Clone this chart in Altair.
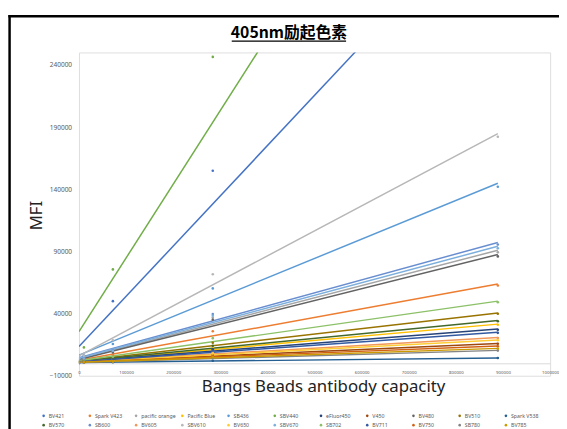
import altair as alt
import pandas as pd

# Bangs beads antibody binding capacity (x positions of the bead populations)
ABC = [0, 10500, 72000, 284000, 889000]

SERIES = ["BV421", "Spark V423", "pacific orange", "Pacific Blue", "SB436", "SBV440",
          "eFluor450", "V450", "BV480", "BV510", "Spark V538",
          "BV570", "SB600", "BV605", "SBV610", "BV650", "SBV670",
          "SB702", "BV711", "BV750", "SB780", "BV785"]

COLORS = ["#4472C4", "#ED7D31", "#A5A5A5", "#FFC000", "#5B9BD5", "#70AD47",
          "#264478", "#9E480E", "#636363", "#997300", "#255E91",
          "#43682B", "#698ED0", "#F1975A", "#B7B7B7", "#FFCD33", "#7CAFDD",
          "#8CC168", "#335AA1", "#D26012", "#848484", "#CC9A00"]

# MFI of each dye at the bead populations
mfi_BV421 = [0, 6000, 50000, 154800, 363700]
mfi_SparkV423 = [1643, 2365, 6600, 25725, 62605]
mfi_pacific_orange = [2276, 3308, 9356, 36668, 89336]
mfi_PacificBlue = [1080, 1434, 3510, 12885, 30963]
mfi_SB436 = [4377, 6009, 15570, 60249, 141969]
mfi_SBV440 = [1400, 12800, 75500, 246400, 535400]
mfi_eFluor450 = [1035, 1343, 3149, 11305, 27033]
mfi_V450 = [790, 967, 2005, 6693, 15732]
mfi_BV480 = [1817, 2814, 8662, 35068, 85988]
mfi_BV510 = [1258, 1715, 4393, 16487, 39807]
mfi_SparkV538 = [548, 592, 848, 2004, 4234]
mfi_BV570 = [1141, 1528, 3798, 14048, 33813]
mfi_SB600 = [3202, 4296, 10711, 39680, 95541]
mfi_BV605 = [927, 1157, 2507, 8600, 20351]
mfi_SBV610 = [4010, 6121, 18483, 71588, 182170]
mfi_BV650 = [852, 1061, 2286, 7817, 18483]
mfi_SBV670 = [2739, 3802, 10037, 38193, 92487]
mfi_SB702 = [1328, 1894, 5216, 20216, 49141]
mfi_BV711 = [970, 1248, 2881, 10256, 24478]
mfi_BV750 = [717, 871, 1778, 5871, 13766]
mfi_SB780 = [564, 679, 1350, 4381, 10226]
mfi_BV785 = [643, 775, 1550, 5050, 11800]

MFI = [mfi_BV421, mfi_SparkV423, mfi_pacific_orange, mfi_PacificBlue, mfi_SB436, mfi_SBV440,
       mfi_eFluor450, mfi_V450, mfi_BV480, mfi_BV510, mfi_SparkV538,
       mfi_BV570, mfi_SB600, mfi_BV605, mfi_SBV610, mfi_BV650, mfi_SBV670,
       mfi_SB702, mfi_BV711, mfi_BV750, mfi_SB780, mfi_BV785]

X_TICKS = [0, 100000, 200000, 300000, 400000, 500000, 600000, 700000, 800000, 900000, 1000000]
Y_TICKS = [-10000, 40000, 90000, 140000, 190000, 240000]

TITLE = "405nm励起色素"

rows = []
for name, vals in zip(SERIES, MFI):
    for x, y in zip(ABC, vals):
        rows.append({"series": name, "abc": x, "mfi": y})
df = pd.DataFrame(rows)

LATIN = "Noto Sans"
xs = alt.Scale(domain=[0, 1000000], nice=False, zero=False)
ys = alt.Scale(domain=[-10000, 250000], nice=False, zero=False)
cscale = alt.Scale(domain=SERIES, range=COLORS)

x_axis = alt.Axis(values=X_TICKS, format="d", grid=False, ticks=False, tickSize=0,
                  domainColor="#D9D9D9", domainWidth=1, labelFontSize=4.4,
                  labelColor="#595959", labelFont=LATIN, labelPadding=7,
                  labelFlush=False, labelOverlap=False, offset=-12.6,
                  title="Bangs Beads antibody capacity", titleFont=LATIN,
                  titleFontSize=17, titleFontWeight="normal", titleColor="#222222",
                  titleX=247.6, titleY=28.6, titleAlign="center",
                  titleBaseline="alphabetic")
y_axis = alt.Axis(values=Y_TICKS, format="d", grid=False, domain=False, ticks=False,
                  tickSize=0, labelFontSize=6.6, labelColor="#595959", labelFont=LATIN,
                  labelPadding=7.5, labelOverlap=False, title="MFI", titleFont=LATIN,
                  titleFontSize=17, titleFontWeight="normal", titleColor="#222222",
                  titleAngle=270, titleX=-43, titleY=165, titleAlign="center",
                  titleBaseline="middle")

base = alt.Chart(df)

lines = base.transform_regression(
    "abc", "mfi", groupby=["series"], method="linear"
).mark_line(strokeWidth=1.5, clip=True).encode(
    x=alt.X("abc:Q", scale=xs, axis=x_axis),
    y=alt.Y("mfi:Q", scale=ys, axis=y_axis),
    color=alt.Color("series:N", scale=cscale, sort=SERIES, legend=None),
    detail="series:N",
)

points = base.mark_circle(size=7, opacity=1, clip=True).encode(
    x=alt.X("abc:Q", scale=xs),
    y=alt.Y("mfi:Q", scale=ys),
    color=alt.Color("series:N", scale=cscale, sort=SERIES,
                    legend=alt.Legend(orient="none", legendX=-38.5, legendY=366,
                                      direction="horizontal", columns=11, title=None,
                                      labelFontSize=5.3, labelColor="#595959",
                                      labelFont=LATIN, symbolType="circle",
                                      symbolSize=7, symbolStrokeWidth=0,
                                      columnPadding=3.9, rowPadding=3.5, gridAlign="all",
                                      labelOffset=2.5, padding=0, labelLimit=100)),
)

deco = alt.Chart(alt.Data(values=[{"k": 0}]))
frame_left = deco.mark_rule(color="black", strokeWidth=2.5).encode(
    x=alt.value(-70.4), y=alt.value(-38), y2=alt.value(400))
frame_top = deco.mark_rule(color="black", strokeWidth=2.5).encode(
    x=alt.value(-71.6), x2=alt.value(500), y=alt.value(-36.8))
title_text = deco.mark_text(text=TITLE, font="Noto Sans CJK JP", fontSize=16,
                            fontWeight="bold", color="black", align="center",
                            baseline="middle").encode(
    x=alt.value(213), y=alt.value(-20))
underline = deco.mark_rule(color="black", strokeWidth=1.2).encode(
    x=alt.value(155), x2=alt.value(271), y=alt.value(-11.5))

chart = alt.layer(lines, points, frame_left, frame_top, title_text, underline).resolve_legend(
    color="independent"
).properties(
    width=478, height=328,
    autosize=alt.AutoSizeParams(type="none"),
    padding={"left": 72, "top": 42, "right": 9, "bottom": 54},
).configure_view(stroke=None).configure(background="white")

chart.save("out.html", embed_options={"renderer": "svg", "actions": False})
